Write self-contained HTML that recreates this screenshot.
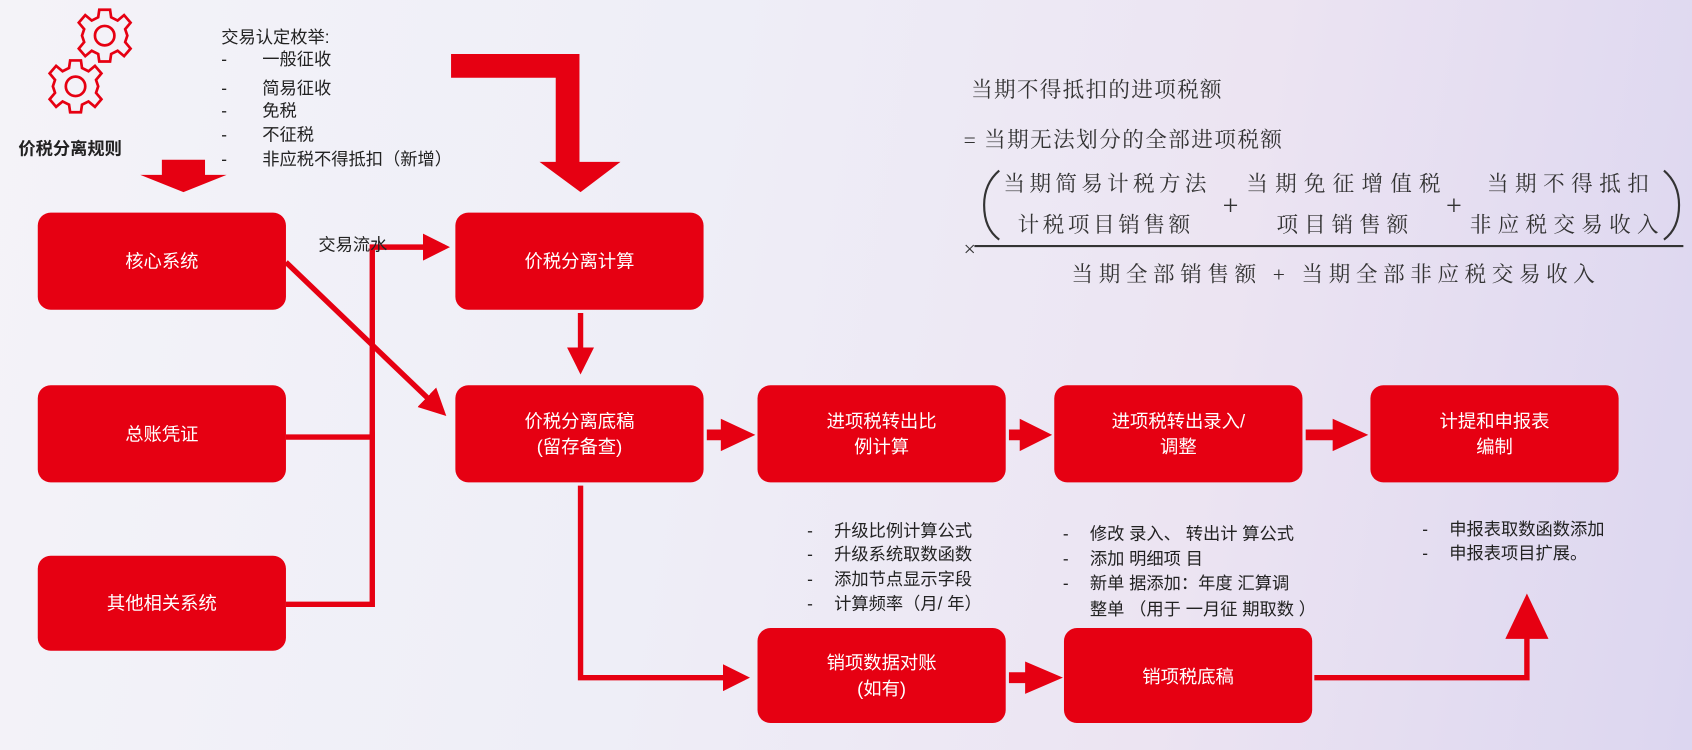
<!DOCTYPE html>
<html><head><meta charset="utf-8"><style>
html,body{margin:0;padding:0;width:1692px;height:750px;overflow:hidden}
body{background:linear-gradient(100deg,#f4f3f8 0%,#eeeef7 40%,#ece4f2 70%,#dcd6f0 100%)}
svg{display:block}
text{font-family:"Liberation Sans","Noto Sans CJK SC",sans-serif}
.f{font-family:"Liberation Serif","Noto Serif CJK SC",serif;font-size:20px;fill:#333}
</style></head><body>
<svg width="1692" height="750" viewBox="0 0 1568 695" xmlns="http://www.w3.org/2000/svg">
<defs>
<marker id="ah" markerWidth="5" markerHeight="5" refX="4" refY="2.5" orient="auto" markerUnits="strokeWidth"><path d="M0,0 L5,2.5 L0,5 z" fill="#e60012"/></marker>
<g id="gear" fill="none" stroke="#e60012" stroke-width="2.5">
<circle r="9"/><path d="M-5,-24 L5,-24 L6,-17 L12,-14 L18,-19 L24,-12 L19,-6 L21,0 L19,6 L24,12 L18,19 L12,14 L6,17 L5,24 L-5,24 L-6,17 L-12,14 L-18,19 L-24,12 L-19,6 L-21,0 L-19,-6 L-24,-12 L-18,-19 L-12,-14 L-6,-17 Z"/>
</g>
</defs>
<g fill="#e60012">
<rect x="35" y="197" width="230" height="90" rx="12"/>
<rect x="35" y="357" width="230" height="90" rx="12"/>
<rect x="35" y="515" width="230" height="88" rx="12"/>
<rect x="422" y="197" width="230" height="90" rx="12"/>
<rect x="422" y="357" width="230" height="90" rx="12"/>
<rect x="702" y="357" width="230" height="90" rx="12"/>
<rect x="977" y="357" width="230" height="90" rx="12"/>
<rect x="1270" y="357" width="230" height="90" rx="12"/>
<rect x="702" y="582" width="230" height="88" rx="12"/>
<rect x="986" y="582" width="230" height="88" rx="12"/>
<path d="M418,50 L537,50 L537,150 L575,150 L538,178 L500,150 L515,150 L515,72 L418,72 Z"/>
<path d="M150,148 L190,148 L190,162 L210,162 L170,178 L130,162 L150,162 Z"/>
<path d="M1395,592 L1415,550 L1435,592 Z"/>
<path d="M655,398 L668,398 L668,388 L700,403 L668,418 L668,408 L655,408 Z"/>
<path d="M935,398 L945,398 L945,388 L975,403 L945,418 L945,408 L935,408 Z"/>
<path d="M1210,398 L1235,398 L1235,388 L1268,403 L1235,418 L1235,408 L1210,408 Z"/>
<path d="M935,623 L950,623 L950,613 L985,628 L950,643 L950,633 L935,633 Z"/>
</g>
<g fill="none" stroke="#e60012" stroke-width="5">
<line x1="265" y1="243" x2="410" y2="382" marker-end="url(#ah)"/>
<polyline points="265,405 345,405 345,229 412,229" marker-end="url(#ah)"/>
<polyline points="265,560 345,560 345,400"/>
<line x1="538" y1="290" x2="538" y2="342" marker-end="url(#ah)"/>
<polyline points="538,450 538,628 690,628" marker-end="url(#ah)"/>
<polyline points="1218,628 1415,628 1415,588"/>
</g>
<use href="#gear" x="97" y="33"/>
<use href="#gear" x="70" y="80"/>
<g fill="#fff" font-size="17" text-anchor="middle">
<text x="150" y="248">核心系统</text>
<text x="150" y="408">总账凭证</text>
<text x="150" y="565">其他相关系统</text>
<text x="537" y="248">价税分离计算</text>
<text x="537" y="396">价税分离底稿</text>
<text x="537" y="420">(留存备查)</text>
<text x="817" y="396">进项税转出比</text>
<text x="817" y="420">例计算</text>
<text x="1092" y="396">进项税转出录入/</text>
<text x="1092" y="420">调整</text>
<text x="1385" y="396">计提和申报表</text>
<text x="1385" y="420">编制</text>
<text x="817" y="620">销项数据对账</text>
<text x="817" y="644">(如有)</text>
<text x="1101" y="633">销项税底稿</text>
</g>
<g fill="#222" font-size="16">
<text x="17" y="143" font-weight="bold">价税分离规则</text>
<text x="205" y="40">交易认定枚举:</text>
<text x="205" y="60">-</text><text x="243" y="60">一般征收</text>
<text x="205" y="87">-</text><text x="243" y="87">简易征收</text>
<text x="205" y="108">-</text><text x="243" y="108">免税</text>
<text x="205" y="130">-</text><text x="243" y="130">不征税</text>
<text x="205" y="153">-</text><text x="243" y="153">非应税不得抵扣（新增）</text>
<text x="295" y="232">交易流水</text>
<text x="748" y="497">-</text><text x="773" y="497">升级比例计算公式</text>
<text x="748" y="519">-</text><text x="773" y="519">升级系统取数函数</text>
<text x="748" y="542">-</text><text x="773" y="542">添加节点显示字段</text>
<text x="748" y="565">-</text><text x="773" y="565">计算频率（月/ 年）</text>
<text x="985" y="500">-</text><text x="1010" y="500">修改 录入、 转出计 算公式</text>
<text x="985" y="523">-</text><text x="1010" y="523">添加 明细项 目</text>
<text x="985" y="546">-</text><text x="1010" y="546">新单 据添加：年度 汇算调</text>
<text x="1010" y="570">整单 （用于 一月征 期取数 ）</text>
<text x="1318" y="496">-</text><text x="1343" y="496">申报表取数函数添加</text>
<text x="1318" y="518">-</text><text x="1343" y="518">申报表项目扩展。</text>
</g>
<g>
<text class="f" x="900" y="90" textLength="232">当期不得抵扣的进项税额</text>
<text class="f" x="893" y="136" textLength="295">= 当期无法划分的全部进项税额</text>
<text class="f" x="930" y="177" textLength="188">当期简易计税方法</text>
<text class="f" x="943" y="215" textLength="160">计税项目销售额</text>
<text class="f" x="1155" y="177" textLength="180">当期免征增值税</text>
<text class="f" x="1183" y="215" textLength="122">项目销售额</text>
<text class="f" x="1378" y="177" textLength="150">当期不得抵扣</text>
<text class="f" x="1362" y="215" textLength="175">非应税交易收入</text>
<text class="f" x="1133" y="199" style="font-size:26px">+</text>
<text class="f" x="1340" y="199" style="font-size:26px">+</text>
<text class="f" x="893" y="237">×</text>
<text class="f" x="993" y="261" textLength="485">当期全部销售额 + 当期全部非应税交易收入</text>
</g>
<path d="M926,158 Q912,170 912,190 Q912,212 926,222" fill="none" stroke="#333" stroke-width="2"/>
<path d="M1542,158 Q1556,170 1556,190 Q1556,212 1542,222" fill="none" stroke="#333" stroke-width="2"/>
<line x1="903" y1="228" x2="1560" y2="228" stroke="#333" stroke-width="2"/>
</svg>
</body></html>
